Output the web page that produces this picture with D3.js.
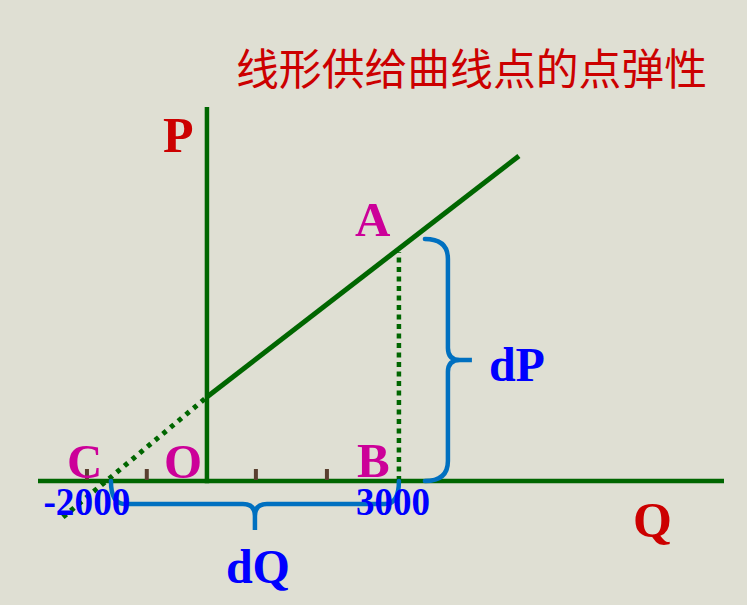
<!DOCTYPE html>
<html>
<head>
<meta charset="utf-8">
<script src="https://cdn.jsdelivr.net/npm/d3@7"></script>
<style>
  html, body { margin: 0; padding: 0; background: #DFDFD3; }
  svg { display: block; }
</style>
</head>
<body>
<div id="chart"></div>
<script>
// ---------------- data ----------------
const title = "线形供给曲线点的点弹性";
const axisNames = ["P", "Q"];
const qAxisExtent = [-2640, 8080];     // Q range of horizontal axis
const pAxisExtent = [-1, 162.6];       // P range of vertical axis
const supplyDottedQ = [-2250, 0];      // dotted extension of supply line
const supplyDottedP = [-15.7, 36.5];
const supplySolidQ = [0, 4875];        // solid supply line
const supplySolidP = [36.5, 141.3];
const pointA = { name: "A", q: 3000, p: 101 };
const pointB = { name: "B", q: 3000, p: 0 };
const pointC = { name: "C", q: -1875, p: 0 };
const pointO = { name: "O", q: 0, p: 0 };
const tickQ = [-1875, -940, 765, 1875];
const tickLabels = ["-2000", "3000"];
const tickLabelQ = [-1875, 3000];
const dQRange = [-1500, 3000];         // span of the dQ brace
const dPRange = [0, 105.2];            // span of the dP brace
const braceLabels = ["dP", "dQ"];

// ---------------- setup ----------------
const W = 747, H = 605;
const svg = d3.select("#chart").append("svg")
  .attr("width", W).attr("height", H);
svg.append("rect").attr("width", W).attr("height", H).attr("fill", "#DFDFD3");

const x = d3.scaleLinear().domain(qAxisExtent).range([38, 724]);
const y = d3.scaleLinear().domain([-20, 180]).range([527, 67]);

const green = "#006600", red = "#CC0000", magenta = "#CC0099", blue = "#0000FF", braceBlue = "#0070C0";
const serif = "'Liberation Serif', 'Times New Roman', serif";

const line = d3.line().x(d => x(d[0])).y(d => y(d[1]));

// title
svg.append("text")
  .attr("x", 236).attr("y", 85)
  .attr("font-family", "'Noto Sans CJK SC', sans-serif")
  .attr("font-size", 43)
  .attr("fill", red)
  .attr("textLength", 471).attr("lengthAdjust", "spacingAndGlyphs")
  .text(title);

// axes
svg.append("path")
  .attr("d", line([[qAxisExtent[0], 0], [qAxisExtent[1], 0]]))
  .attr("stroke", green).attr("stroke-width", 4.5).attr("fill", "none");
svg.append("path")
  .attr("d", line([[0, pAxisExtent[0]], [0, pAxisExtent[1]]]))
  .attr("stroke", green).attr("stroke-width", 4.5).attr("fill", "none");

// ticks
svg.selectAll("rect.tick").data(tickQ).enter().append("rect")
  .attr("class", "tick")
  .attr("x", d => x(d) - 2).attr("y", y(0) - 12)
  .attr("width", 4).attr("height", 11)
  .attr("fill", "#5A4030");

// supply line: dotted part
svg.append("path")
  .attr("d", line(d3.zip(supplyDottedQ, supplyDottedP)))
  .attr("stroke", green).attr("stroke-width", 5).attr("fill", "none")
  .attr("stroke-dasharray", "4.5,5.5");
// supply line: solid part
svg.append("path")
  .attr("d", line(d3.zip(supplySolidQ, supplySolidP)))
  .attr("stroke", green).attr("stroke-width", 5).attr("fill", "none");

// dotted vertical A-B
svg.append("path")
  .attr("d", line([[pointA.q, 0], [pointA.q, pointA.p - 1.5]]))
  .attr("stroke", green).attr("stroke-width", 4.5).attr("fill", "none")
  .attr("stroke-dasharray", "5,4.5");

// dP brace (vertical, opening left)
(function () {
  const x0 = x(pointA.q) + 26, x1 = x0 + 23, x2 = x0 + 47;
  const yt = y(dPRange[1]), yb = y(dPRange[0]), ym = (yt + yb) / 2;
  const r = 20, r2 = 12;
  const p = d3.path();
  p.moveTo(x0, yt);
  p.quadraticCurveTo(x1, yt, x1, yt + r);
  p.lineTo(x1, ym - r2);
  p.quadraticCurveTo(x1, ym, x1 + r2, ym);
  p.lineTo(x2, ym);
  p.lineTo(x1 + r2, ym);
  p.quadraticCurveTo(x1, ym, x1, ym + r2);
  p.lineTo(x1, yb - r);
  p.quadraticCurveTo(x1, yb, x0, yb);
  svg.append("path").attr("d", p.toString())
    .attr("stroke", braceBlue).attr("stroke-width", 4.5).attr("fill", "none")
    .attr("stroke-linecap", "round");
  svg.append("text")
    .attr("x", x2 + 17).attr("y", ym + 21)
    .attr("font-family", serif).attr("font-weight", "bold")
    .attr("font-size", 48).attr("fill", blue)
    .text(braceLabels[0]);
})();

// dQ brace (horizontal, opening up)
(function () {
  const xl = x(dQRange[0]), xr = x(dQRange[1]), xm = (xl + xr) / 2;
  const y0 = y(0), y1 = y0 + 23, y2 = y0 + 49;
  const r = 14, r2 = 12;
  const p = d3.path();
  p.moveTo(xl, y0);
  p.quadraticCurveTo(xl, y1, xl + r, y1);
  p.lineTo(xm - r2, y1);
  p.quadraticCurveTo(xm, y1, xm, y1 + r2);
  p.lineTo(xm, y2);
  p.lineTo(xm, y1 + r2);
  p.quadraticCurveTo(xm, y1, xm + r2, y1);
  p.lineTo(xr - r, y1);
  p.quadraticCurveTo(xr, y1, xr, y0);
  svg.append("path").attr("d", p.toString())
    .attr("stroke", braceBlue).attr("stroke-width", 4.5).attr("fill", "none")
    .attr("stroke-linecap", "round");
  svg.append("text")
    .attr("x", xm + 3).attr("y", y2 + 53)
    .attr("text-anchor", "middle")
    .attr("font-family", serif).attr("font-weight", "bold")
    .attr("font-size", 48).attr("fill", blue)
    .text(braceLabels[1]);
})();

// tick labels
const tickLabelWidths = [87, 74];
svg.selectAll("text.tlabel").data(d3.zip(tickLabels, tickLabelQ, tickLabelWidths)).enter().append("text")
  .attr("class", "tlabel")
  .attr("x", (d, i) => x(d[1]) - d[2] / 2 + (i === 1 ? -6 : 0))
  .attr("y", y(0) + 34)
  .attr("font-family", serif).attr("font-weight", "bold")
  .attr("font-size", 40).attr("fill", blue)
  .attr("textLength", d => d[2]).attr("lengthAdjust", "spacingAndGlyphs")
  .text(d => d[0]);

// point labels
const pointLabelOffsets = [[pointA, -44, -13], [pointB, -42, -4], [pointC, -20, -3], [pointO, -43, -3]];
svg.selectAll("text.plabel").data(pointLabelOffsets).enter().append("text")
  .attr("class", "plabel")
  .attr("x", d => x(d[0].q) + d[1])
  .attr("y", d => y(d[0].p) + d[2])
  .attr("font-family", serif).attr("font-weight", "bold")
  .attr("font-size", 49).attr("fill", magenta)
  .text(d => d[0].name);

// axis names
svg.append("text")
  .attr("x", x(0) - 44).attr("y", y(pAxisExtent[1]) + 45)
  .attr("font-family", serif).attr("font-weight", "bold")
  .attr("font-size", 50).attr("fill", red)
  .text(axisNames[0]);
svg.append("text")
  .attr("x", x(qAxisExtent[1]) - 91).attr("y", y(0) + 56)
  .attr("font-family", serif).attr("font-weight", "bold")
  .attr("font-size", 50).attr("fill", red)
  .text(axisNames[1]);
</script>
</body>
</html>
